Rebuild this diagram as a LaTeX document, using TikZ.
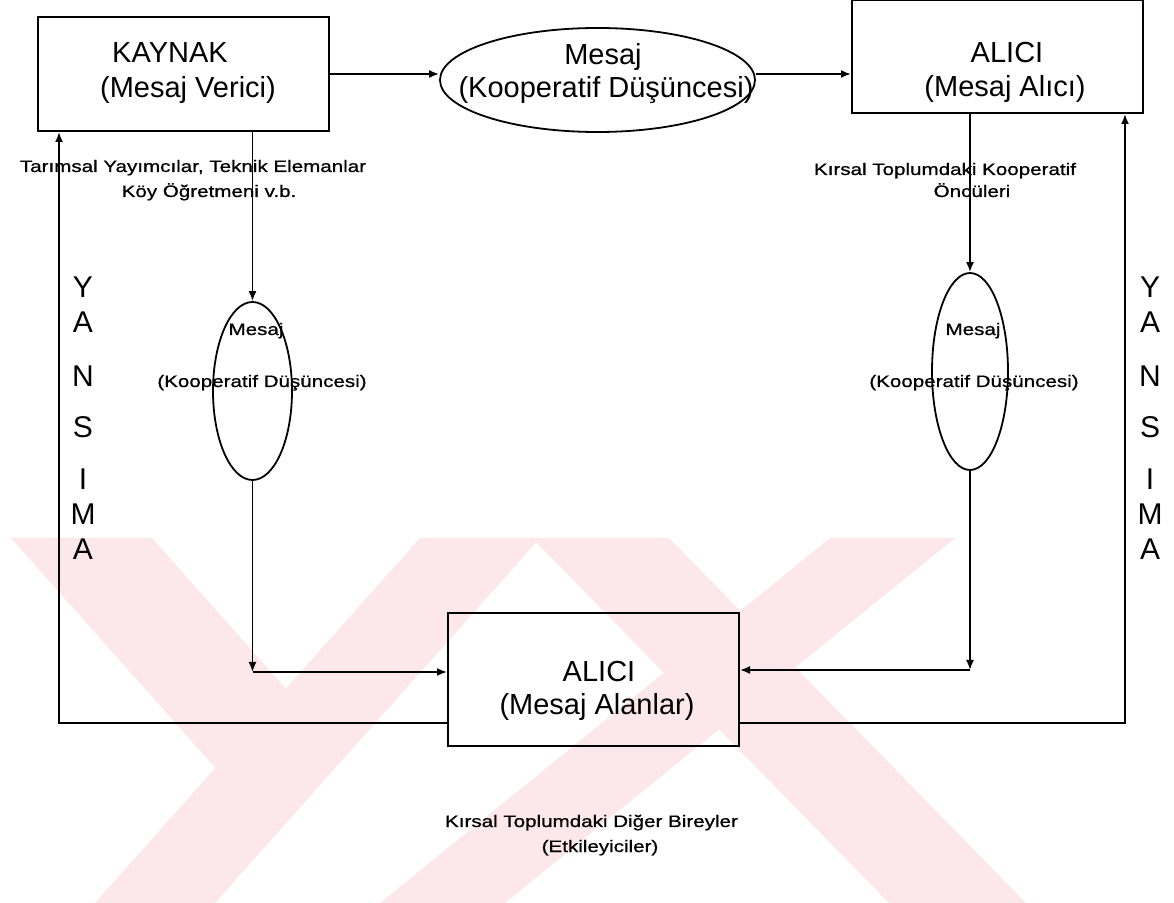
\documentclass[tikz,border=0pt]{standalone}
\usepackage{fontspec}
\setmainfont{Liberation Sans}
\newfontfamily\smallf[FakeStretch=1.24,FakeBold=0.8]{Liberation Sans}
\usetikzlibrary{shapes.geometric,arrows.meta}
\definecolor{wm}{RGB}{252,232,236}
\tikzset{
  box/.style={draw, line width=1pt, inner sep=0pt, minimum width=145.5pt},
  bubble/.style={draw, ellipse, line width=0.9pt, inner sep=0pt},
  big/.style={font=\fontsize{14.5}{17}\selectfont, inner sep=0pt, anchor=base},
  small/.style={font=\smallf\fontsize{8.3}{10}\selectfont, inner sep=0pt, anchor=base},
  vlet/.style={font=\fontsize{15}{18}\selectfont, inner sep=0pt, anchor=base},
  conn/.style={line width=0.9pt},
  arr/.style={conn, -{Latex[length=5pt,width=4pt]}},
}
\begin{document}
\begin{tikzpicture}[x=0.5pt,y=-0.5pt]
\useasboundingbox (0,0) rectangle (1174,903);
\fill[white] (0,0) rectangle (1174,903);
% watermark
\begin{scope}
\clip (0,538) rectangle (1174,903);
% Y: long arm and stem
\fill[wm] (420,538) -- (540,538) -- (215,903) -- (95,903) -- cycle;
% Y: left arm
\fill[wm] (11,538) -- (152,538) -- (286,689) -- (215.5,768) -- cycle;
% X: down-right band
\fill[wm] (532,538) -- (669,538) -- (1026,903) -- (889,903) -- cycle;
% X: down-left band
\fill[wm] (830,538) -- (955,538) -- (505,903) -- (380,903) -- cycle;
\end{scope}

% boxes
\node[box, minimum height=57pt] (src) at (183.5,74) {};
\node[box, minimum height=56.5pt] (rcv) at (997.5,56.5) {};
\node[box, minimum height=66.5pt] (dst) at (593.5,679.5) {};
% ellipses
\node[bubble, minimum width=157.5pt, minimum height=52pt] (msg) at (597.5,80) {};
\node[bubble, minimum width=39.5pt, minimum height=89pt] (m1) at (252.5,391) {};
\node[bubble, minimum width=38pt, minimum height=98.5pt] (m2) at (970,371.5) {};

% texts
\node[big] (srcA) at (170,63) {KAYNAK};
\node[big] (srcB) at (188,98) {(Mesaj Verici)};
\node[big] (msgA) at (603,65) {Mesaj};
\node[big] (msgB) at (606,98) {(Kooperatif Düşüncesi)};
\node[big] (rcvA) at (1007,63) {ALICI};
\node[big] (rcvB) at (1005,97) {(Mesaj Alıcı)};
\node[big] (dstA) at (599,682) {ALICI};
\node[big] (dstB) at (597,715) {(Mesaj Alanlar)};

\node[small] (tA) at (193,172) {Tarımsal Yayımcılar, Teknik Elemanlar};
\node[small] (tB) at (209,197) {Köy Öğretmeni v.b.};
\node[small] (kA) at (945,175) {Kırsal Toplumdaki Kooperatif};
\node[small] (kB) at (972,197) {Öncüleri};
\node[small] (m1A) at (256,335) {Mesaj};
\node[small] (m1B) at (262,387) {(Kooperatif Düşüncesi)};
\node[small] (m2A) at (973,335) {Mesaj};
\node[small] (m2B) at (974,387) {(Kooperatif Düşüncesi)};
\node[small] (bA) at (591.5,827) {Kırsal Toplumdaki Diğer Bireyler};
\node[small] (bB) at (600,852) {(Etkileyiciler)};

% YANSIMA
\foreach \c/\yy [count=\i] in {Y/298,A/333,N/387,S/438,I/490,M/525,A/560}{
  \node[vlet] (yl\i) at (83,\yy) {\c};
  \node[vlet] (yr\i) at (1150,\yy) {\c};
}

% connectors
\draw[arr] (src.east) -- (src.east -| msg.west);
\draw[arr] (msg.east |- src.east) -- (rcv.west |- src.east);
\draw[arr] (src.south -| m1.north) -- (m1.north);
\draw[arr] (rcv.south -| m2.north) -- (m2.north);
\coordinate (c1) at (252.5,672);
\coordinate (c2) at (970,670);
\draw[arr] (m1.south) -- (c1);
\draw[arr] (c1) -- (c1 -| dst.west);
\draw[arr] (m2.south) -- (c2);
\draw[arr] (c2) -- (c2 -| dst.east);
\coordinate (l1) at (59,723);
\coordinate (r1) at (1125,723);
\draw[arr] (dst.west |- l1) -- (l1) -- (l1 |- src.south);
\draw[arr] (dst.east |- r1) -- (r1) -- (r1 |- rcv.south);
\end{tikzpicture}
\end{document}
